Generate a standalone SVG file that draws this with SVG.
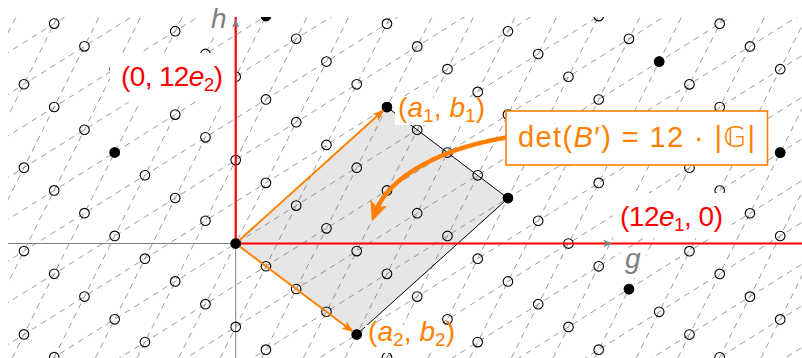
<svg xmlns="http://www.w3.org/2000/svg" xmlns:xlink="http://www.w3.org/1999/xlink" width="802" height="358" viewBox="0 0 802 358">
<style>
.grid{stroke:#808080;stroke-width:0.8;stroke-dasharray:6 5;fill:none}
.oc{fill:none;stroke:#000;stroke-width:1.1}
.fd{fill:#000}
.lbl{font-family:"Liberation Sans","DejaVu Sans",sans-serif;font-size:28px}
.sub{font-size:19px}
.red{fill:#ff0000}
.org{fill:#ff8000}
.gry{fill:#808080}
.it{font-style:italic}
.wb{fill:#fff}
</style>
<defs>
<clipPath id="clip"><rect x="8" y="17" width="794" height="341"/></clipPath>
<line id="gl" x1="-726" y1="454.8" x2="726" y2="-454.8" class="grid"/>
<line id="sl" x1="-302.5" y1="606.5" x2="302.5" y2="-606.5" class="grid"/>
<g id="col">
<circle cx="0" cy="250.2" r="4.8" class="oc"/>
<circle cx="0" cy="166.8" r="4.8" class="oc"/>
<circle cx="0" cy="83.4" r="4.8" class="oc"/>
<circle cx="0" cy="0" r="4.8" class="oc"/>
<circle cx="0" cy="-83.4" r="4.8" class="oc"/>
<circle cx="0" cy="-166.8" r="4.8" class="oc"/>
<circle cx="0" cy="-250.2" r="4.8" class="oc"/>
<circle cx="0" cy="-333.6" r="4.8" class="oc"/>
<circle cx="0" cy="-417" r="4.8" class="oc"/>
<circle cx="0" cy="-500.4" r="4.8" class="oc"/>
<circle cx="0" cy="-583.8" r="4.8" class="oc"/>
</g>
<marker id="ah" viewBox="0 0 12 10" refX="11" refY="5" markerWidth="12" markerHeight="10" markerUnits="userSpaceOnUse" orient="auto"><path d="M0,0.5 L12,5 L0,9.5 L3,5 Z" fill="#ff8000"/></marker>
<marker id="ahb" viewBox="0 0 20 18" refX="11" refY="9" markerWidth="20" markerHeight="18" markerUnits="userSpaceOnUse" orient="auto"><path d="M0,0 L20,9 L0,18 L5,9 Z" fill="#ff8000"/></marker>
</defs>

<g id="fundamental-domain-fill">
<polygon points="235.7,243.5 356.7,334.5 508,198.3 387,107.05" fill="#e6e6e6"/>
</g>

<g id="grid" clip-path="url(#clip)">
<use xlink:href="#gl" href="#gl" transform="translate(235.7,702.2)"/>
<use xlink:href="#gl" href="#gl" transform="translate(235.7,660.5)"/>
<use xlink:href="#gl" href="#gl" transform="translate(235.7,618.8)"/>
<use xlink:href="#gl" href="#gl" transform="translate(235.7,577.1)"/>
<use xlink:href="#gl" href="#gl" transform="translate(235.7,535.4)"/>
<use xlink:href="#gl" href="#gl" transform="translate(235.7,493.7)"/>
<use xlink:href="#gl" href="#gl" transform="translate(235.7,452)"/>
<use xlink:href="#gl" href="#gl" transform="translate(235.7,410.3)"/>
<use xlink:href="#gl" href="#gl" transform="translate(235.7,368.6)"/>
<use xlink:href="#gl" href="#gl" transform="translate(235.7,326.9)"/>
<use xlink:href="#gl" href="#gl" transform="translate(235.7,285.2)"/>
<use xlink:href="#gl" href="#gl" transform="translate(235.7,243.5)"/>
<use xlink:href="#gl" href="#gl" transform="translate(235.7,201.8)"/>
<use xlink:href="#gl" href="#gl" transform="translate(235.7,160.1)"/>
<use xlink:href="#gl" href="#gl" transform="translate(235.7,118.4)"/>
<use xlink:href="#gl" href="#gl" transform="translate(235.7,76.7)"/>
<use xlink:href="#gl" href="#gl" transform="translate(235.7,35)"/>
<use xlink:href="#gl" href="#gl" transform="translate(235.7,-6.7)"/>
<use xlink:href="#gl" href="#gl" transform="translate(235.7,-48.4)"/>
<use xlink:href="#gl" href="#gl" transform="translate(235.7,-90.1)"/>
<use xlink:href="#sl" href="#sl" transform="translate(-97.1,243.5)"/>
<use xlink:href="#sl" href="#sl" transform="translate(-55.5,243.5)"/>
<use xlink:href="#sl" href="#sl" transform="translate(-13.9,243.5)"/>
<use xlink:href="#sl" href="#sl" transform="translate(27.7,243.5)"/>
<use xlink:href="#sl" href="#sl" transform="translate(69.3,243.5)"/>
<use xlink:href="#sl" href="#sl" transform="translate(110.9,243.5)"/>
<use xlink:href="#sl" href="#sl" transform="translate(152.5,243.5)"/>
<use xlink:href="#sl" href="#sl" transform="translate(194.1,243.5)"/>
<use xlink:href="#sl" href="#sl" transform="translate(235.7,243.5)"/>
<use xlink:href="#sl" href="#sl" transform="translate(277.3,243.5)"/>
<use xlink:href="#sl" href="#sl" transform="translate(318.9,243.5)"/>
<use xlink:href="#sl" href="#sl" transform="translate(360.5,243.5)"/>
<use xlink:href="#sl" href="#sl" transform="translate(402.1,243.5)"/>
<use xlink:href="#sl" href="#sl" transform="translate(443.7,243.5)"/>
<use xlink:href="#sl" href="#sl" transform="translate(485.3,243.5)"/>
<use xlink:href="#sl" href="#sl" transform="translate(526.9,243.5)"/>
<use xlink:href="#sl" href="#sl" transform="translate(568.5,243.5)"/>
<use xlink:href="#sl" href="#sl" transform="translate(610.1,243.5)"/>
<use xlink:href="#sl" href="#sl" transform="translate(651.7,243.5)"/>
<use xlink:href="#sl" href="#sl" transform="translate(693.3,243.5)"/>
<use xlink:href="#sl" href="#sl" transform="translate(734.9,243.5)"/>
<use xlink:href="#sl" href="#sl" transform="translate(776.5,243.5)"/>
<use xlink:href="#sl" href="#sl" transform="translate(818.1,243.5)"/>
<use xlink:href="#sl" href="#sl" transform="translate(859.7,243.5)"/>
</g>

<g id="axes" stroke="#808080" stroke-width="1">
<line x1="8" y1="243.5" x2="606" y2="243.5"/>
<line x1="235.7" y1="358" x2="235.7" y2="26"/>
</g>

<g id="lattice-points" clip-path="url(#clip)">
<use xlink:href="#col" href="#col" transform="translate(23.95,84.25)"/>
<use xlink:href="#col" href="#col" transform="translate(54.2,107)"/>
<use xlink:href="#col" href="#col" transform="translate(84.45,129.75)"/>
<use xlink:href="#col" href="#col" transform="translate(114.7,152.5)"/>
<use xlink:href="#col" href="#col" transform="translate(144.95,175.25)"/>
<use xlink:href="#col" href="#col" transform="translate(175.2,198)"/>
<use xlink:href="#col" href="#col" transform="translate(205.45,220.75)"/>
<use xlink:href="#col" href="#col" transform="translate(235.7,243.5)"/>
<use xlink:href="#col" href="#col" transform="translate(265.95,266.25)"/>
<use xlink:href="#col" href="#col" transform="translate(296.2,289)"/>
<use xlink:href="#col" href="#col" transform="translate(326.45,311.75)"/>
<use xlink:href="#col" href="#col" transform="translate(356.7,334.5)"/>
<use xlink:href="#col" href="#col" transform="translate(386.95,357.25)"/>
<use xlink:href="#col" href="#col" transform="translate(417.2,380)"/>
<use xlink:href="#col" href="#col" transform="translate(447.45,402.75)"/>
<use xlink:href="#col" href="#col" transform="translate(477.7,425.5)"/>
<use xlink:href="#col" href="#col" transform="translate(507.95,448.25)"/>
<use xlink:href="#col" href="#col" transform="translate(538.2,471)"/>
<use xlink:href="#col" href="#col" transform="translate(568.45,493.75)"/>
<use xlink:href="#col" href="#col" transform="translate(598.7,516.5)"/>
<use xlink:href="#col" href="#col" transform="translate(628.95,539.25)"/>
<use xlink:href="#col" href="#col" transform="translate(659.2,562)"/>
<use xlink:href="#col" href="#col" transform="translate(689.45,584.75)"/>
<use xlink:href="#col" href="#col" transform="translate(719.7,607.5)"/>
<use xlink:href="#col" href="#col" transform="translate(749.95,630.25)"/>
<use xlink:href="#col" href="#col" transform="translate(780.2,653)"/>
</g>

<g id="fundamental-domain-outline">
<polyline points="387,107.05 508,198.3 356.7,334.5" fill="none" stroke="#000" stroke-width="1"/>
</g>

<g id="label-h">
<rect x="206" y="4" width="26" height="29" class="wb"/>
<text x="211" y="28" class="lbl gry it">h</text>
</g>
<g id="label-g">
<rect x="620" y="248" width="26" height="30" class="wb"/>
<text x="625" y="268" class="lbl gry it">g</text>
</g>
<g id="label-0-12e2">
<rect x="110" y="53" width="127" height="49" class="wb"/>
<text x="121" y="86" class="lbl red" textLength="102">(0, 12<tspan class="it">e</tspan><tspan class="sub" dy="5">2</tspan><tspan dy="-5">)</tspan></text>
</g>
<g id="label-12e1-0">
<rect x="613" y="193" width="119" height="45" class="wb"/>
<text x="620" y="226" class="lbl red" textLength="103">(12<tspan class="it">e</tspan><tspan class="sub" dy="5">1</tspan><tspan dy="-5">, 0)</tspan></text>
</g>
<g id="label-a1-b1">
<rect x="395" y="98" width="96" height="27" class="wb"/>
<text x="398" y="117" class="lbl org" textLength="87">(<tspan class="it">a</tspan><tspan class="sub" dy="5">1</tspan><tspan dy="-5">, </tspan><tspan class="it">b</tspan><tspan class="sub" dy="5">1</tspan><tspan dy="-5">)</tspan></text>
</g>
<g id="label-a2-b2">
<rect x="365" y="325" width="95" height="28" class="wb"/>
<text x="368" y="341" class="lbl org" textLength="87">(<tspan class="it">a</tspan><tspan class="sub" dy="5">2</tspan><tspan dy="-5">, </tspan><tspan class="it">b</tspan><tspan class="sub" dy="5">2</tspan><tspan dy="-5">)</tspan></text>
</g>

<g id="red-lines" stroke="#ff0000" stroke-width="2.2">
<line x1="235.7" y1="17" x2="235.7" y2="243.5"/>
<line x1="235.7" y1="243.5" x2="802" y2="243.5"/>
</g>

<g id="axis-arrowheads" fill="#808080">
<polygon points="612,243.5 603.5,239.8 605.5,243.5 603.5,247.2"/>
<polygon points="235.7,19 232,27.5 235.7,25.5 239.4,27.5"/>
</g>

<g id="connectors" fill="none" stroke="#ff8000">
<line x1="235.7" y1="243.5" x2="383.5" y2="110.3" stroke-width="2" marker-end="url(#ah)"/>
<line x1="235.7" y1="243.5" x2="352.7" y2="331.5" stroke-width="2" marker-end="url(#ah)"/>
<path d="M510,137 C445,147 389,175 375,213" stroke-width="4.5" marker-end="url(#ahb)"/>
</g>

<g id="super-lattice-points" clip-path="url(#clip)">
<circle cx="235.7" cy="243.5" r="5" class="fd"/>
<circle cx="387" cy="107.05" r="5" class="fd"/>
<circle cx="356.7" cy="334.5" r="5" class="fd"/>
<circle cx="508" cy="198.3" r="5" class="fd"/>
<circle cx="114.7" cy="152.5" r="5" class="fd"/>
<circle cx="265.95" cy="16.05" r="5" class="fd"/>
<circle cx="659.2" cy="61.6" r="5" class="fd"/>
<circle cx="780.2" cy="152.6" r="5" class="fd"/>
<circle cx="628.95" cy="289.5" r="5" class="fd"/>
</g>

<g id="det-box">
<rect x="506" y="111" width="261.5" height="54" fill="#fff" stroke="#ff8000" stroke-width="1.6"/>
<text x="518" y="147" class="lbl org" style="font-size:29px" textLength="237">det(<tspan class="it">B</tspan>′) = 12 · |<tspan font-family="DejaVu Sans, sans-serif">𝔾</tspan>|</text>
</g>
</svg>
